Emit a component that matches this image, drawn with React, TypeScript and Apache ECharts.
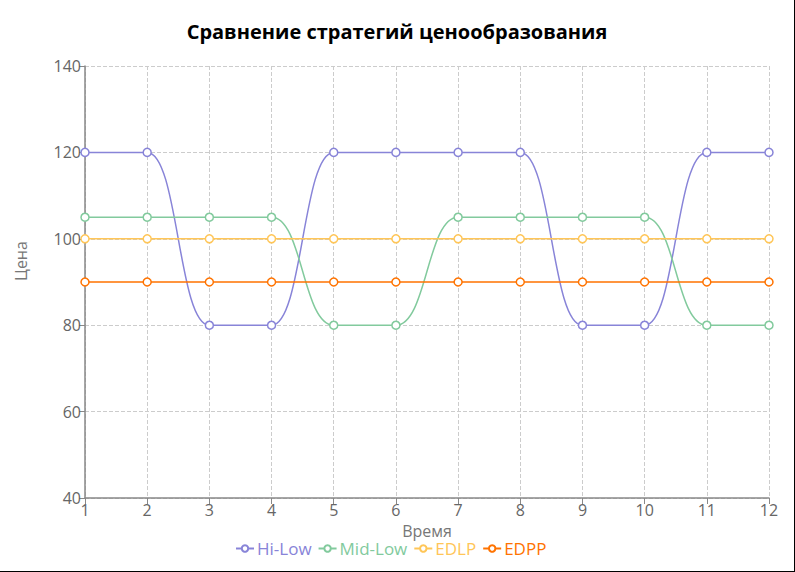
import { useEffect, useRef } from 'react';
import * as echarts from 'echarts';

const periods = ['1', '2', '3', '4', '5', '6', '7', '8', '9', '10', '11', '12'];

const hiLow = [120, 120, 80, 80, 120, 120, 120, 120, 80, 80, 120, 120];
const midLow = [105, 105, 105, 105, 80, 80, 105, 105, 105, 105, 80, 80];
const edlp = [100, 100, 100, 100, 100, 100, 100, 100, 100, 100, 100, 100];
const edpp = [90, 90, 90, 90, 90, 90, 90, 90, 90, 90, 90, 90];

const seriesList = [
  { name: 'Hi-Low', data: hiLow, color: '#8884d8' },
  { name: 'Mid-Low', data: midLow, color: '#82ca9d' },
  { name: 'EDLP', data: edlp, color: '#ffc658' },
  { name: 'EDPP', data: edpp, color: '#ff7300' },
];

const FONT = '"Open Sans", "Noto Sans", sans-serif';

export default function App() {
  const chartRef = useRef<HTMLDivElement>(null);

  useEffect(() => {
    if (!chartRef.current) return;
    const chart = echarts.init(chartRef.current, undefined, { renderer: 'svg' });

    const option: echarts.EChartsOption = {
      animation: false,
      textStyle: { fontFamily: FONT },
      title: {
        text: 'Сравнение стратегий ценообразования',
        left: 'center',
        top: 16,
        textStyle: { fontSize: 20, fontWeight: 'bold', color: '#000', fontFamily: FONT },
      },
      grid: { left: 85, right: 25, top: 66, bottom: 73 },
      legend: {
        bottom: 9,
        left: 230,
        itemWidth: 18,
        itemHeight: 8,
        itemGap: 6,
        textStyle: { fontSize: 17, fontFamily: FONT, padding: [0, 0, 0, -2] },
        data: seriesList.map(s => ({ name: s.name, textStyle: { color: s.color } })),
      },
      xAxis: {
        type: 'category',
        data: periods,
        boundaryGap: false,
        name: 'Время',
        nameLocation: 'middle',
        nameGap: 23,
        nameTextStyle: { fontSize: 16, color: '#777', fontFamily: FONT },
        axisLine: { lineStyle: { color: '#888', width: 1.5 } },
        axisTick: { show: true, length: 6, lineStyle: { color: '#888' } },
        axisLabel: { fontSize: 16, color: '#666', margin: 4 },
        splitLine: { show: true, lineStyle: { color: '#ccc', type: 'dashed' } },
      },
      yAxis: {
        type: 'value',
        min: 40,
        max: 140,
        interval: 20,
        name: 'Цена',
        nameLocation: 'middle',
        nameGap: 56,
        nameTextStyle: { fontSize: 16, color: '#777', fontFamily: FONT, padding: [0, 0, 0, 42] },
        axisLine: { show: true, lineStyle: { color: '#888', width: 1.5 } },
        axisTick: { show: true, length: 6, lineStyle: { color: '#888' } },
        axisLabel: { fontSize: 16, color: '#666', margin: 4 },
        splitLine: { show: true, lineStyle: { color: '#ccc', type: 'dashed' } },
      },
      series: seriesList.map(s => ({
        name: s.name,
        type: 'line',
        data: s.data,
        smooth: true,
        smoothMonotone: 'x',
        symbol: 'circle',
        symbolSize: 8,
        itemStyle: { color: '#fff', borderColor: s.color, borderWidth: 1.5 },
        lineStyle: { color: s.color, width: 1.5 },
      })),
    };

    chart.setOption(option);
    return () => chart.dispose();
  }, []);

  return (
    <div
      style={{
        position: 'fixed',
        left: 0,
        top: 0,
        width: 795,
        height: 572,
        boxSizing: 'border-box',
        borderRight: '1px solid #000',
        borderBottom: '1px solid #000',
        background: '#fff',
      }}
    >
      <div ref={chartRef} style={{ width: 794, height: 571 }} />
    </div>
  );
}
